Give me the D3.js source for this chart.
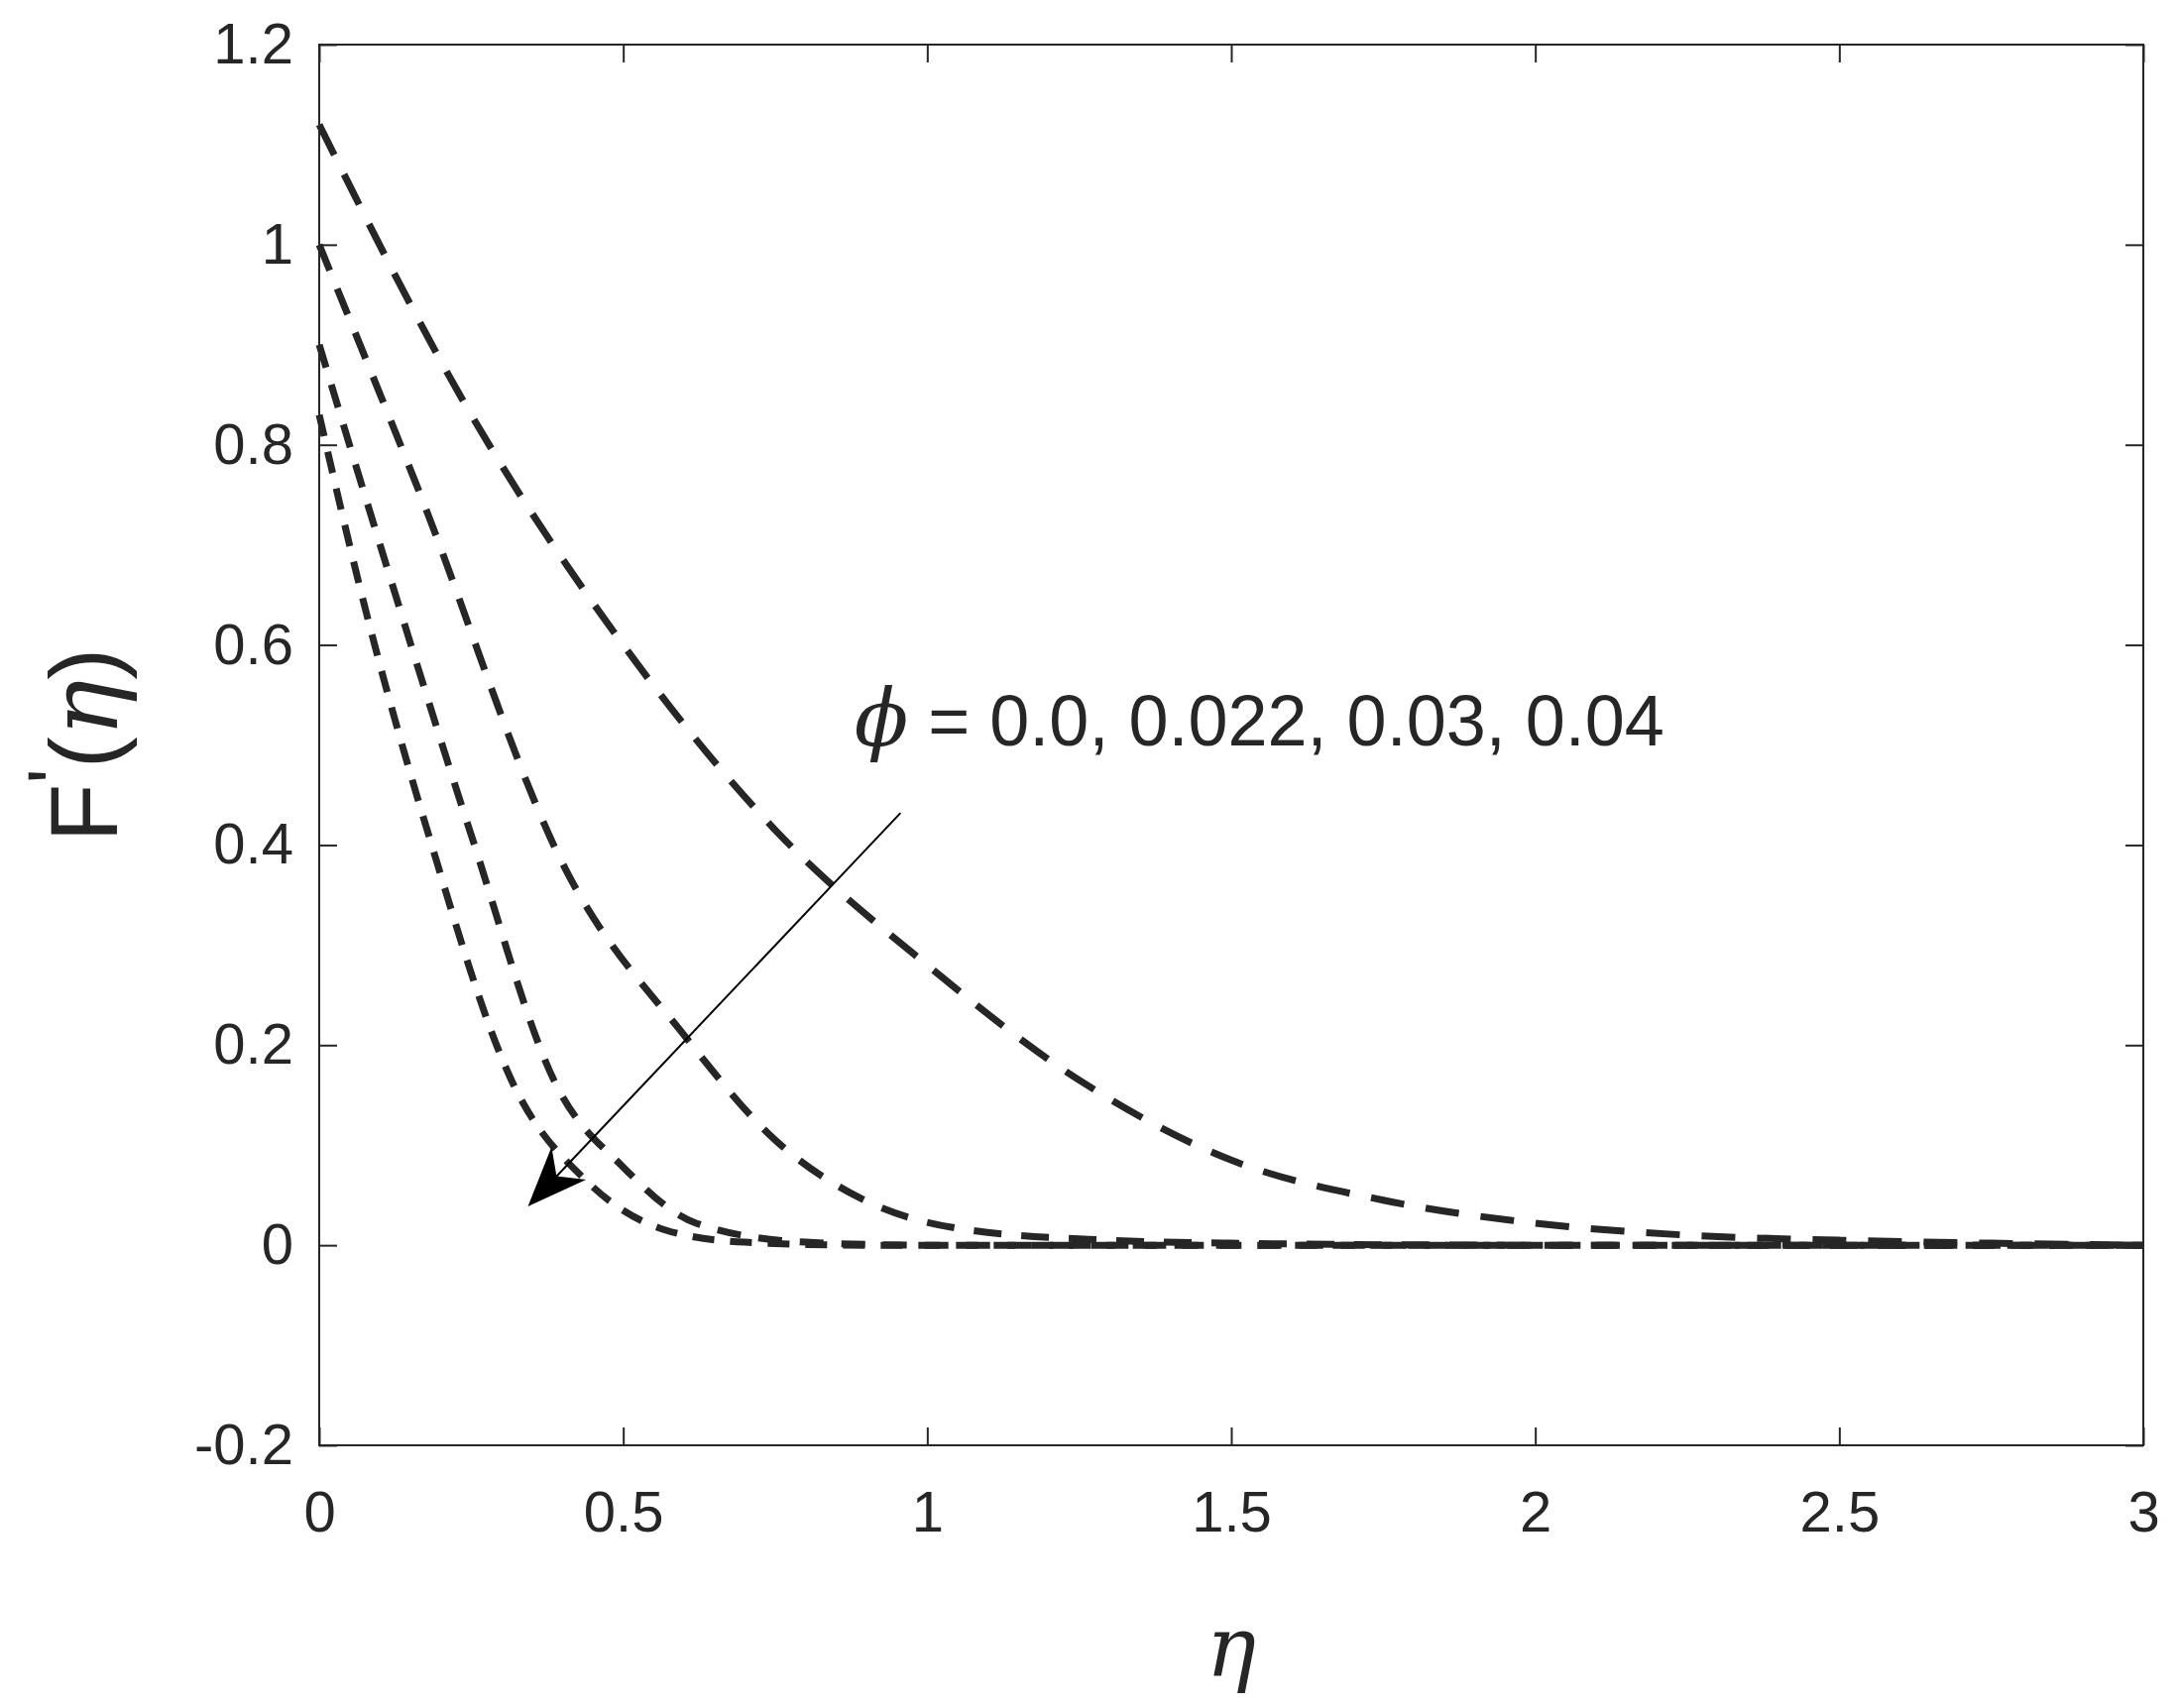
<!DOCTYPE html><html><head><meta charset="utf-8"><script src="https://cdn.jsdelivr.net/npm/d3@7"></script>
<style>body{margin:0;background:#fff}text{font-family:"Liberation Sans",Arial,sans-serif;fill:#262626}</style></head><body>
<svg id="c" width="2198" height="1723"></svg>
<script>
const xTicks=[0,0.5,1,1.5,2,2.5,3];
const yTicks=[-0.2,0,0.2,0.4,0.6,0.8,1,1.2];
const eta1=[0,0.25,0.5,0.75,1,1.25,1.5,1.75,2,2.25,2.5,2.75,3];
const s1=[1.12,0.83,0.6,0.415,0.28,0.165,0.085,0.045,0.022,0.01,0.005,0.002,0];
const eta2=[0,0.16,0.41,0.6,0.75,0.89,1.07,1.3,1.5,2,3];
const s2=[1.0,0.76,0.37,0.21,0.105,0.047,0.015,0.005,0.002,0,0];
const eta3=[0,0.09,0.25,0.39,0.5,0.62,0.8,1,2,3];
const s3=[0.9,0.72,0.41,0.16,0.078,0.022,0.003,0,0,0];
const eta4=[0,0.07,0.18,0.32,0.44,0.57,0.7,0.9,2,3];
const s4=[0.83,0.65,0.41,0.16,0.064,0.015,0.003,0,0,0];
const series=[[eta1,s1,"34,22"],[eta2,s2,"28,20"],[eta3,s3,"24,18"],[eta4,s4,"22,16"]];
const svg=d3.select("#c");
const L=322,R=2162,T=45,B=1458;
const x=d3.scaleLinear().domain([0,3]).range([L,R]);
const y=d3.scaleLinear().domain([-0.2,1.2]).range([B,T]);
const ax=(g,a)=>{g.call(a);g.select(".domain").remove();g.selectAll("line").attr("stroke","#262626").attr("stroke-width",2);g.selectAll("text").style("font-size","58px").attr("fill","#262626");};
svg.append("g").attr("transform",`translate(0,${B})`).call(g=>ax(g,d3.axisBottom(x).tickValues(xTicks).tickFormat(d3.format("")).tickSize(-18).tickPadding(46)));
svg.append("g").attr("transform",`translate(0,${T})`).call(g=>{ax(g,d3.axisTop(x).tickValues(xTicks).tickSize(-18));g.selectAll("text").remove();});
svg.append("g").attr("transform",`translate(${L},0)`).call(g=>ax(g,d3.axisLeft(y).tickValues(yTicks).tickFormat(d=>String(+d.toFixed(1))).tickSize(-18).tickPadding(26)));
svg.append("g").attr("transform",`translate(${R},0)`).call(g=>{ax(g,d3.axisRight(y).tickValues(yTicks).tickSize(-18));g.selectAll("text").remove();});
svg.append("rect").attr("x",L).attr("y",T).attr("width",R-L).attr("height",B-T).attr("fill","none").attr("stroke","#262626").attr("stroke-width",2);
const line=d3.line().curve(d3.curveMonotoneX);
series.forEach(([e,v,d])=>svg.append("path").attr("d",line(e.map((t,i)=>[x(t),y(v[i])]))).attr("fill","none").attr("stroke","#262626").attr("stroke-width",7).attr("stroke-dasharray",d));
svg.append("defs").append("marker").attr("id","ah").attr("viewBox","0 0 10 10").attr("refX",9).attr("refY",5).attr("orient","auto").attr("markerUnits","userSpaceOnUse").attr("markerWidth",60).attr("markerHeight",60)
 .append("path").attr("d","M0,1 L10,5 L0,9 L3,5 Z").attr("fill","#000");
svg.append("line").attr("x1",x(0.956)).attr("y1",y(0.432)).attr("x2",x(0.35)).attr("y2",y(0.043)).attr("stroke","#000").attr("stroke-width",2).attr("marker-end","url(#ah)");
const t=svg.append("text").attr("x",x(0.88)).attr("y",y(0.5)).style("font-size","72px");
t.append("tspan").text("ϕ").style("font-family","'DejaVu Serif',serif").style("font-style","italic").style("font-size","80px");
t.append("tspan").text(" = 0.0, 0.022, 0.03, 0.04");
svg.append("text").attr("x",x(1.5)).attr("y",1690).attr("text-anchor","middle").style("font-size","84px").style("font-family","'DejaVu Serif',serif").style("font-style","italic").text("η");
const yl=svg.append("text").attr("transform",`translate(118,${y(0.5)}) rotate(-90)`).attr("text-anchor","middle").style("font-size","96px");
yl.append("tspan").text("F");yl.append("tspan").text("'").attr("dy","-34").style("font-size","80px");
yl.append("tspan").text("(").attr("dy","34");yl.append("tspan").text("η").style("font-family","'DejaVu Serif',serif").style("font-style","italic");yl.append("tspan").text(")");
</script></body></html>
